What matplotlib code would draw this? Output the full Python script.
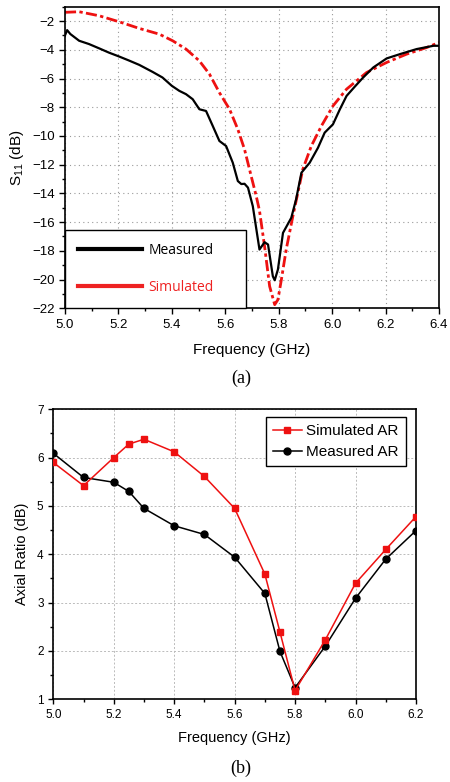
import matplotlib
matplotlib.use("Agg")
import matplotlib.pyplot as plt
from matplotlib.ticker import MultipleLocator, FormatStrFormatter
from matplotlib.lines import Line2D

plt.rcParams['font.family'] = ['Liberation Sans', 'DejaVu Sans']
plt.rcParams['mathtext.fontset'] = 'custom'
plt.rcParams['mathtext.rm'] = 'Liberation Sans'
plt.rcParams['mathtext.it'] = 'Liberation Sans:italic'

# ---- (a) S11 data ----
meas_f = [5.000, 5.008, 5.020, 5.053, 5.090, 5.128, 5.165, 5.203, 5.240, 5.278,
          5.328, 5.365, 5.400, 5.428, 5.453, 5.478, 5.503, 5.528, 5.553, 5.578,
          5.603, 5.628, 5.647, 5.660, 5.672, 5.685, 5.703, 5.728, 5.747, 5.760,
          5.778, 5.785, 5.797, 5.816, 5.847, 5.865, 5.885, 5.916, 5.947, 5.972,
          6.003, 6.029, 6.054, 6.085, 6.116, 6.154, 6.204, 6.254, 6.316, 6.379, 6.400]
meas_s11 = [-3.00, -2.63, -2.90, -3.37, -3.60, -3.90, -4.20, -4.47, -4.75, -5.05,
            -5.54, -5.93, -6.51, -6.86, -7.09, -7.44, -8.14, -8.26, -9.30, -10.35,
            -10.70, -11.86, -13.14, -13.35, -13.33, -13.60, -14.89, -17.91, -17.40, -17.56,
            -19.77, -20.05, -19.30, -16.75, -15.70, -14.42, -12.56, -11.86, -10.82, -9.77,
            -9.19, -8.14, -7.21, -6.56, -5.93, -5.23, -4.60, -4.30, -3.95, -3.72, -3.72]

sim_f = [5.000, 5.053, 5.128, 5.203, 5.278, 5.353, 5.403, 5.453, 5.503, 5.541,
         5.578, 5.616, 5.647, 5.672, 5.697, 5.716, 5.728, 5.747, 5.766, 5.785,
         5.797, 5.810, 5.828, 5.853, 5.878, 5.890, 5.922, 5.960, 6.003, 6.054,
         6.129, 6.204, 6.279, 6.354, 6.400]
sim_s11 = [-1.39, -1.35, -1.63, -2.05, -2.51, -2.91, -3.37, -3.95, -4.77, -5.70,
           -6.98, -8.14, -9.54, -10.93, -12.80, -14.20, -15.20, -17.68, -20.47, -21.75,
           -21.40, -20.00, -17.91, -15.58, -13.40, -12.33, -10.70, -9.30, -7.91, -6.74,
           -5.58, -4.88, -4.30, -3.84, -3.49]

# ---- (b) Axial ratio data ----
ar_f = [5.0, 5.1, 5.2, 5.25, 5.3, 5.4, 5.5, 5.6, 5.7, 5.75, 5.8, 5.9, 6.0, 6.1, 6.2]
ar_sim = [5.90, 5.42, 6.00, 6.28, 6.38, 6.12, 5.61, 4.95, 3.59, 2.39, 1.18, 2.23, 3.40, 4.10, 4.78]
ar_meas = [6.09, 5.59, 5.49, 5.30, 4.95, 4.59, 4.41, 3.94, 3.19, 1.99, 1.24, 2.10, 3.09, 3.90, 4.49]

fig = plt.figure(figsize=(4.5, 7.82), dpi=100)

# ---------------- (a) ----------------
ax1 = fig.add_axes([0.1444, 0.6058, 0.9756 - 0.1444, 0.9914 - 0.6058])
ax1.plot(meas_f, meas_s11, color='black', lw=1.6, label='Measured', zorder=3)
ax1.plot(sim_f, sim_s11, color='#ee1111', lw=2.0, ls=(0, (4, 1.2, 1.2, 1.2)),
         label='Simulated', zorder=2)
ax1.set_xlim(5.0, 6.4)
ax1.set_ylim(-22, -1)
ax1.xaxis.set_major_locator(MultipleLocator(0.2))
ax1.xaxis.set_minor_locator(MultipleLocator(0.1))
ax1.yaxis.set_major_locator(MultipleLocator(2))
ax1.yaxis.set_minor_locator(MultipleLocator(1))
ax1.xaxis.set_major_formatter(FormatStrFormatter('%.1f'))
ax1.tick_params(which='both', direction='out', labelsize=9.5, width=1)
ax1.tick_params(which='major', length=4)
ax1.tick_params(which='minor', length=2.5)
ax1.grid(True, which='major', color='#999999', ls=(0, (1, 3)), lw=0.8)
for s in ax1.spines.values():
    s.set_linewidth(1.2)
ax1.set_xlabel('Frequency (GHz)', fontsize=11, labelpad=9)
ax1.set_ylabel(r'S$_{11}$ (dB)', fontsize=11)

h_meas = Line2D([], [], color='black', lw=3)
h_sim = Line2D([], [], color='#ee2222', lw=3)
leg1 = ax1.legend([h_meas, h_sim], ['Measured', 'Simulated'], loc='lower left',
                  bbox_to_anchor=(0, 0, 181 / 374, 0.2), mode='expand',
                  borderaxespad=0, frameon=True, fancybox=False,
                  edgecolor='black', framealpha=1, handlelength=4.6, handletextpad=0.45,
                  labelspacing=1.6, borderpad=0.95, prop={'family': 'Open Sans', 'size': 10})
leg1.get_frame().set_linewidth(1.0)
leg1.get_texts()[1].set_color('#ee2222')

fig.text(0.535, 1 - 378 / 782, '(a)', ha='center', va='center', fontsize=13,
         family='Liberation Serif')

# ---------------- (b) ----------------
ax2 = fig.add_axes([0.1184, 0.1058, 0.9244 - 0.1184, 0.4766 - 0.1058])
ax2.plot(ar_f, ar_sim, color='#ee1111', lw=1.1, marker='s', ms=5, label='Simulated AR', zorder=3)
ax2.plot(ar_f, ar_meas, color='black', lw=1.1, marker='o', ms=5, label='Measured AR', zorder=2)
ax2.set_xlim(5.0, 6.2)
ax2.set_ylim(1, 7)
ax2.xaxis.set_major_locator(MultipleLocator(0.2))
ax2.xaxis.set_minor_locator(MultipleLocator(0.1))
ax2.yaxis.set_major_locator(MultipleLocator(1))
ax2.yaxis.set_minor_locator(MultipleLocator(0.5))
ax2.xaxis.set_major_formatter(FormatStrFormatter('%.1f'))
ax2.tick_params(which='both', direction='out', labelsize=8.5, width=1)
ax2.tick_params(which='major', length=3.5)
ax2.tick_params(which='minor', length=2)
ax2.grid(True, which='major', color='#bbbbbb', ls=(0, (2, 2)), lw=0.7)
for s in ax2.spines.values():
    s.set_linewidth(1.2)
ax2.set_xlabel('Frequency (GHz)', fontsize=10.5, labelpad=7)
ax2.set_ylabel('Axial Ratio (dB)', fontsize=10.5, labelpad=6)
leg2 = ax2.legend(loc='upper right', bbox_to_anchor=(0.9716, 0.9724), frameon=True, fancybox=False,
                  edgecolor='black', framealpha=1, fontsize=11, handlelength=1.9,
                  handletextpad=0.3, labelspacing=0.45, borderpad=0.45, borderaxespad=0,
                  handleheight=0.7)
leg2.get_frame().set_linewidth(1.0)

fig.text(0.535, 1 - 768 / 782, '(b)', ha='center', va='center', fontsize=13,
         family='Liberation Serif')

fig.savefig('out.png', dpi=100)
